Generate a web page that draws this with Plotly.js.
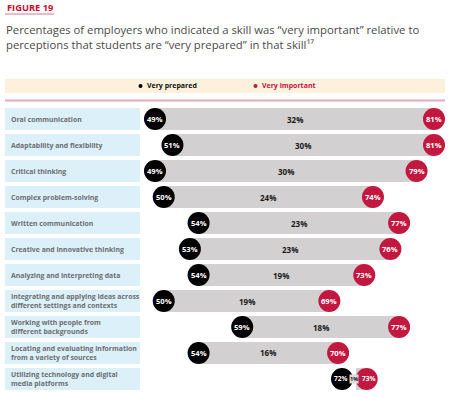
<!DOCTYPE html>
<html>
<head>
<meta charset="utf-8">
<script src="https://cdn.plot.ly/plotly-3.0.1.min.js"></script>
<style>html,body{margin:0;padding:0;background:#fff;}#chart{width:454px;height:398px;}</style>
</head>
<body>
<div id="chart"></div>
<script>
// ---- data ----
const skills = [
  "Oral communication",
  "Adaptability and flexibility",
  "Critical thinking",
  "Complex problem-solving",
  "Written communication",
  "Creative and innovative thinking",
  "Analyzing and interpreting data",
  "Integrating and applying ideas across<br>different settings and contexts",
  "Working with people from<br>different backgrounds",
  "Locating and evaluating information<br>from a variety of sources",
  "Utilizing technology and digital<br>media platforms"
];
const veryPrepared  = [49, 51, 49, 50, 54, 53, 54, 50, 59, 54, 72];
const veryImportant = [81, 81, 79, 74, 77, 76, 73, 69, 77, 70, 73];
const seriesNames = ["Very prepared", "Very important"];

// ---- layout helpers ----
const W = 454, H = 398;
const X0 = 31.222, X1 = 83.294;         // x range (percent)
const PXU = W / (X1 - X0);              // pixels per percent
const Y0 = 10.731, Y1 = -4.577;         // y range (row index, reversed)
const px = v => v / W;                  // paper x from pixel
const py = v => 1 - v / H;              // paper y from pixel
const R = 11;                           // circle radius px
const BOXH = 0.42;

const RED = "#c2173f", BLACK = "#000000", GRAY = "#d2d0d0";
const FONT = "Open Sans, sans-serif";

const idx = skills.map((_, i) => i);
const gaps = idx.map(i => veryImportant[i] - veryPrepared[i]);

const traces = [{
  type: "bar", orientation: "h",
  y: idx, x: gaps, base: veryPrepared,
  width: 2 * BOXH,
  marker: {color: GRAY, line: {width: 0}},
  hoverinfo: "skip", showlegend: false
}];

const shapes = [];
const annotations = [];
const topAnnotations = [];

// header
annotations.push({xref: "paper", yref: "paper", x: px(5), y: py(7.5), xanchor: "left", yanchor: "middle",
  text: "<b>FIGURE 19</b>", showarrow: false, font: {family: FONT, size: 9.3, color: "#c8102e"}});
shapes.push({type: "line", xref: "paper", yref: "paper", x0: px(5), x1: px(54), y0: py(14), y1: py(14),
  line: {color: "#e3a3b3", width: 1.5}});
annotations.push({xref: "paper", yref: "paper", x: px(4), y: py(37), xanchor: "left", yanchor: "middle", align: "left",
  text: "Percentages of employers who indicated a skill was “very important” relative to<br>perceptions that students are “very prepared” in that skill¹⁷",
  showarrow: false, font: {family: FONT, size: 11.3, color: "#4a4a4a"}});

// legend band
shapes.push({type: "rect", xref: "paper", yref: "paper", x0: px(5), x1: px(445), y0: py(79), y1: py(93),
  fillcolor: "#fdf1dc", line: {width: 0}, layer: "below"});
shapes.push({type: "circle", xref: "paper", yref: "paper", x0: px(138.5), x1: px(142.5), y0: py(84), y1: py(88),
  fillcolor: BLACK, line: {width: 0}});
shapes.push({type: "circle", xref: "paper", yref: "paper", x0: px(253.5), x1: px(257.5), y0: py(84), y1: py(88),
  fillcolor: RED, line: {width: 0}});
annotations.push({xref: "paper", yref: "paper", x: px(145), y: py(86), xanchor: "left", yanchor: "middle",
  text: "<b>" + seriesNames[0] + "</b>", showarrow: false, font: {family: FONT, size: 7, color: "#111"}});
annotations.push({xref: "paper", yref: "paper", x: px(260), y: py(86), xanchor: "left", yanchor: "middle",
  text: "<b>" + seriesNames[1] + "</b>", showarrow: false, font: {family: FONT, size: 7, color: RED}});
shapes.push({type: "line", xref: "paper", yref: "paper", x0: px(5), x1: px(445), y0: py(100.5), y1: py(100.5),
  line: {color: "#e3a9b8", width: 2}});

// rows
idx.forEach(i => {
  // label box
  shapes.push({type: "rect", xref: "paper", yref: "y", x0: px(5), x1: px(140), y0: i - BOXH, y1: i + BOXH,
    fillcolor: "#dcf0fa", line: {width: 0}, layer: "below"});
  annotations.push({xref: "paper", yref: "y", x: px(9), y: i, xanchor: "left", yanchor: "middle", align: "left",
    text: "<b>" + skills[i] + "</b>", showarrow: false,
    font: {family: FONT, size: 6.9, color: "#6d6e71"}});

  // nudge circles apart when they would overlap
  const gapPx = gaps[i] * PXU;
  const crowded = gapPx < 2 * R;
  const need = crowded ? (2 * R - 1 - gapPx) : 0;
  const shiftP = crowded ? -need * 1.1 : 0;
  const shiftI = crowded ? need * 0.2 : 0;

  // circles
  [[veryPrepared[i], BLACK, shiftP], [veryImportant[i], RED, shiftI]].forEach(([v, c, s]) => {
    shapes.push({type: "circle", xref: "x", yref: "y", xsizemode: "pixel", ysizemode: "pixel",
      xanchor: v, yanchor: i, x0: -R + s, x1: R + s, y0: -R, y1: R,
      fillcolor: c, line: {width: 0}, layer: "above"});
    annotations.push({xref: "x", yref: "y", x: v, y: i, xshift: s + (crowded ? (c === BLACK ? -1.5 : 2) : 0),
      xanchor: "center", yanchor: "middle",
      text: "<b>" + v + "%</b>", showarrow: false,
      font: {family: FONT, size: crowded ? 6.6 : 7.6, color: "#ffffff"}});
  });

  // gap label
  const gapAnn = {xref: "x", yref: "y", x: (veryPrepared[i] + veryImportant[i]) / 2, y: i,
    xshift: (shiftP + shiftI) / 2, xanchor: "center", yanchor: "middle",
    text: "<b>" + gaps[i] + "%</b>", showarrow: false,
    font: {family: FONT, size: crowded ? 5.6 : 8, color: "#1a1a1a"}};
  if (crowded) { gapAnn.bgcolor = "#dcdcdc"; gapAnn.borderpad = 0; topAnnotations.push(gapAnn); }
  else annotations.push(gapAnn);
});

const layout = {
  width: W, height: H,
  margin: {l: 0, r: 0, t: 0, b: 0, pad: 0},
  paper_bgcolor: "#ffffff", plot_bgcolor: "rgba(0,0,0,0)",
  showlegend: false,
  xaxis: {range: [X0, X1], visible: false, fixedrange: true},
  yaxis: {range: [Y0, Y1], visible: false, fixedrange: true},
  bargap: 0,
  shapes: shapes,
  annotations: annotations.concat(topAnnotations)
};

Plotly.newPlot("chart", traces, layout, {displayModeBar: false, staticPlot: true});
</script>
</body>
</html>
